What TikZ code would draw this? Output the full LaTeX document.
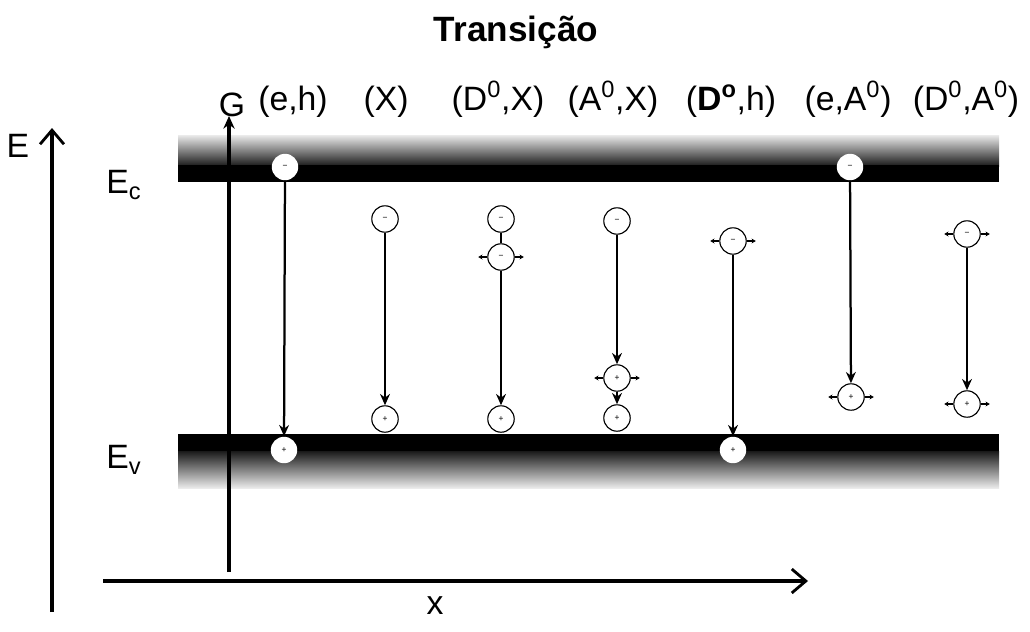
\documentclass[tikz,border=0pt]{standalone}
\usepackage{fontspec}
\setmainfont{Liberation Sans}
\usetikzlibrary{arrows.meta}
\begin{document}
\begin{tikzpicture}[x=0.025cm,y=-0.025cm,
  lbl/.style={font=\fontsize{24}{26}\selectfont, inner sep=0},
  col/.style={lbl, anchor=base},
  pc/.style={circle, draw=black, line width=0.8pt, fill=white, minimum size=0.66cm, inner sep=0, font=\fontsize{6}{6}\selectfont},
  inband/.style={pc, draw=none},
  trans/.style={line width=1.6pt, -{Stealth[length=8pt,width=7pt]}},
  tick/.style={line width=0.9pt, -{Stealth[length=3pt,width=3.5pt]}},
  axis/.style={line width=2.4pt, -{Straight Barb[length=10pt,width=17pt,line width=2pt]}},
  garrow/.style={line width=2.6pt, -{Stealth[length=9pt,width=8pt]}}
]
\useasboundingbox (0,0) rectangle (1030,631);

% title
\node[font=\fontsize{25}{27}\selectfont\bfseries] (title) at (516,32) {Transição};

% bands
\shade[top color=black!8,bottom color=black!90] (178,135) rectangle (999,166);
\fill[black] (178,165) rectangle (999,182);
\fill[black] (178,434) rectangle (999,452);
\shade[top color=black!90,bottom color=black!8] (178,451) rectangle (999,488);

% axes
\coordinate (Ebot) at (52,612);
\coordinate (Etop) at (52,128);
\draw[axis] (Ebot) -- (Etop);
\node[lbl] (E) at (18,146) {E};
\coordinate (xl) at (103,581);
\coordinate (xr) at (808,581);
\draw[axis] (xl) -- (xr);
\node[lbl] (x) at (435,606) {x};

% band labels
\node[lbl] (Ec) at (124,185) {E\textsubscript{c}};
\node[lbl] (Ev) at (124,460) {E\textsubscript{v}};

% G arrow
\coordinate (Gbot) at (229,572);
\coordinate (Gtop) at (229,116);
\draw[garrow] (Gbot) -- (Gtop);
\node[col] (G) at (232,116) {G};

% column labels
\node[col] (l1) at (293,110) {(e,h)};
\node[col] (l2) at (386,110) {(X)};
\node[col] (l3) at (498,110) {(D\textsuperscript{0},X)};
\node[col] (l4) at (613,110) {(A\textsuperscript{0},X)};
\node[col] (l5) at (731,110) {(\textbf{D}\textsuperscript{\textbf{o}},h)};
\node[col] (l6) at (848,110) {(e,A\textsuperscript{0})};
\node[col] (l7) at (966,110) {(D\textsuperscript{0},A\textsuperscript{0})};

% (e,h)
\node[inband] (e1) at (285,167) {−};
\node[inband] (h1) at (284,450) {+};
\draw[trans] (e1) -- (h1);

% (X)
\node[pc] (e2) at (385,219) {−};
\node[pc] (h2) at (385,419) {+};
\draw[trans] (e2) -- (h2);

% (D0,X)
\node[pc] (e3) at (501,219) {−};
\node[pc] (d3) at (501,257) {−};
\draw[tick] (d3.west) -- ++(-9,0);
\draw[tick] (d3.east) -- ++(9,0);
\draw[line width=1pt] (e3) -- (d3);
\node[pc] (h3) at (501,419) {+};
\draw[trans] (d3) -- (h3);

% (A0,X)
\node[pc] (e4) at (617,221) {−};
\node[pc] (a4) at (617,378) {+};
\draw[tick] (a4.west) -- ++(-9,0);
\draw[tick] (a4.east) -- ++(9,0);
\node[pc] (h4) at (617,418) {+};
\draw[trans] (e4) -- (a4);
\draw[trans] (a4) -- (h4);

% (D0,h)
\node[pc] (d5) at (733,241) {−};
\draw[tick] (d5.west) -- ++(-9,0);
\draw[tick] (d5.east) -- ++(9,0);
\node[inband] (h5) at (733,450) {+};
\draw[trans] (d5) -- (h5);

% (e,A0)
\node[inband] (e6) at (850,167) {−};
\node[pc] (a6) at (851,397) {+};
\draw[tick] (a6.west) -- ++(-9,0);
\draw[tick] (a6.east) -- ++(9,0);
\draw[trans] (e6) -- (a6);

% (D0,A0)
\node[pc] (d7) at (967,234) {−};
\draw[tick] (d7.west) -- ++(-9,0);
\draw[tick] (d7.east) -- ++(9,0);
\node[pc] (a7) at (967,404) {+};
\draw[tick] (a7.west) -- ++(-9,0);
\draw[tick] (a7.east) -- ++(9,0);
\draw[trans] (d7) -- (a7);
\end{tikzpicture}
\end{document}
